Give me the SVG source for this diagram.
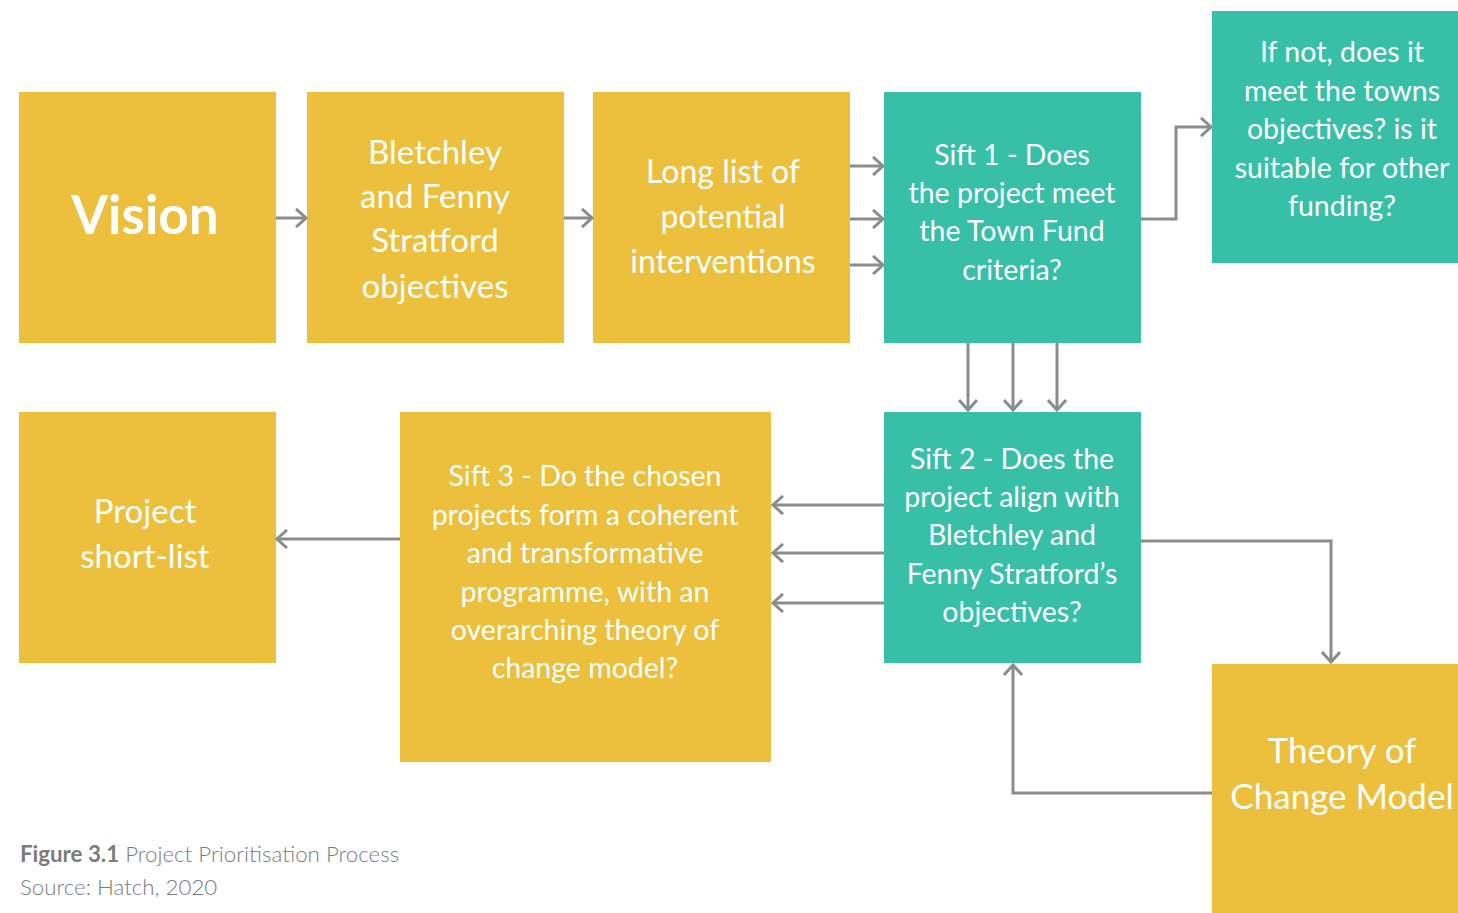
<svg xmlns="http://www.w3.org/2000/svg" width="1458" height="913" viewBox="0 0 1458 913">
<defs>
<style>
.y{fill:#ECBF3C}
.t{fill:#38BFA7}
.lbl{font-family:"Lato","Noto Sans",sans-serif;fill:#fff;text-anchor:middle}
.m{font-size:33px}
.s{font-size:28.5px}
.c{stroke:#8A8C8E;stroke-width:3;fill:none}
.cap{font-family:"Lato","Noto Sans",sans-serif;font-size:22.3px;fill:#7A7C7E}
</style>
<marker id="a" viewBox="0 0 20 20" refX="18" refY="10" markerWidth="20" markerHeight="20" markerUnits="userSpaceOnUse" orient="auto">
<path d="M8 1 L18 10 L8 19" fill="none" stroke="#8A8C8E" stroke-width="3"/>
</marker>
</defs>
<rect width="1458" height="913" fill="#fff"/>
<g id="vision"><rect class="y" x="19" y="92" width="257" height="251"/><text class="lbl" x="145" y="234" style="font-size:53px;font-weight:bold">Vision</text></g>
<g id="objectives"><rect class="y" x="307" y="92" width="257" height="251"/><text class="lbl m"><tspan x="435" y="164">Bletchley</tspan><tspan x="435" y="208">and Fenny</tspan><tspan x="435" y="252">Stratford</tspan><tspan x="435" y="298">objectives</tspan></text></g>
<g id="longlist"><rect class="y" x="593" y="92" width="257" height="251"/><text class="lbl" style="font-size:32px"><tspan x="723" y="183">Long list of</tspan><tspan x="723" y="228">potential</tspan><tspan x="723" y="273">interventions</tspan></text></g>
<g id="sift1"><rect class="t" x="884" y="92" width="257" height="251"/><text class="lbl s"><tspan x="1012" y="165">Sift 1 - Does</tspan><tspan x="1012" y="203">the project meet</tspan><tspan x="1012" y="241">the Town Fund</tspan><tspan x="1012" y="280">criteria?</tspan></text></g>
<g id="ifnot"><rect class="t" x="1212" y="11" width="246" height="252"/><text class="lbl s"><tspan x="1342" y="62">If not, does it</tspan><tspan x="1342" y="101">meet the towns</tspan><tspan x="1342" y="139">objectives? is it</tspan><tspan x="1342" y="178">suitable for other</tspan><tspan x="1342" y="216">funding?</tspan></text></g>
<g id="shortlist"><rect class="y" x="19" y="412" width="257" height="251"/><text class="lbl m"><tspan x="145" y="523">Project</tspan><tspan x="145" y="568">short-list</tspan></text></g>
<g id="sift3"><rect class="y" x="400" y="412" width="371" height="350"/><text class="lbl s"><tspan x="585" y="486">Sift 3 - Do the chosen</tspan><tspan x="585" y="525">projects form a coherent</tspan><tspan x="585" y="563">and transformative</tspan><tspan x="585" y="602">programme, with an</tspan><tspan x="585" y="640">overarching theory of</tspan><tspan x="585" y="678">change model?</tspan></text></g>
<g id="sift2"><rect class="t" x="884" y="412" width="257" height="251"/><text class="lbl s"><tspan x="1012" y="469">Sift 2 - Does the</tspan><tspan x="1012" y="507">project align with</tspan><tspan x="1012" y="545">Bletchley and</tspan><tspan x="1012" y="584">Fenny Stratford’s</tspan><tspan x="1012" y="622">objectives?</tspan></text></g>
<g id="theory"><rect class="y" x="1212" y="664" width="246" height="249"/><text class="lbl" style="font-size:35px"><tspan x="1342" y="763">Theory of</tspan><tspan x="1342" y="809">Change Model</tspan></text></g>
<g id="connectors">
<path class="c" marker-end="url(#a)" d="M276 218 H306"/>
<path class="c" marker-end="url(#a)" d="M564 218 H592"/>
<path class="c" marker-end="url(#a)" d="M850 166 H883"/>
<path class="c" marker-end="url(#a)" d="M850 219 H883"/>
<path class="c" marker-end="url(#a)" d="M850 265 H883"/>
<path class="c" marker-end="url(#a)" d="M1141 219 H1176 V127 H1211"/>
<path class="c" marker-end="url(#a)" d="M968 343 V410"/>
<path class="c" marker-end="url(#a)" d="M1013 343 V410"/>
<path class="c" marker-end="url(#a)" d="M1057 343 V410"/>
<path class="c" marker-end="url(#a)" d="M884 505 H773"/>
<path class="c" marker-end="url(#a)" d="M884 553 H773"/>
<path class="c" marker-end="url(#a)" d="M884 603 H773"/>
<path class="c" marker-end="url(#a)" d="M400 539 H277"/>
<path class="c" marker-end="url(#a)" d="M1141 541 H1331 V662"/>
<path class="c" marker-end="url(#a)" d="M1212 793 H1013 V665"/>
</g>
<text class="cap" x="20" y="862"><tspan font-weight="bold">Figure 3.1</tspan><tspan font-weight="300"> Project Prioritisation Process</tspan></text>
<text class="cap" x="20" y="895" font-weight="300">Source: Hatch, 2020</text>
</svg>
